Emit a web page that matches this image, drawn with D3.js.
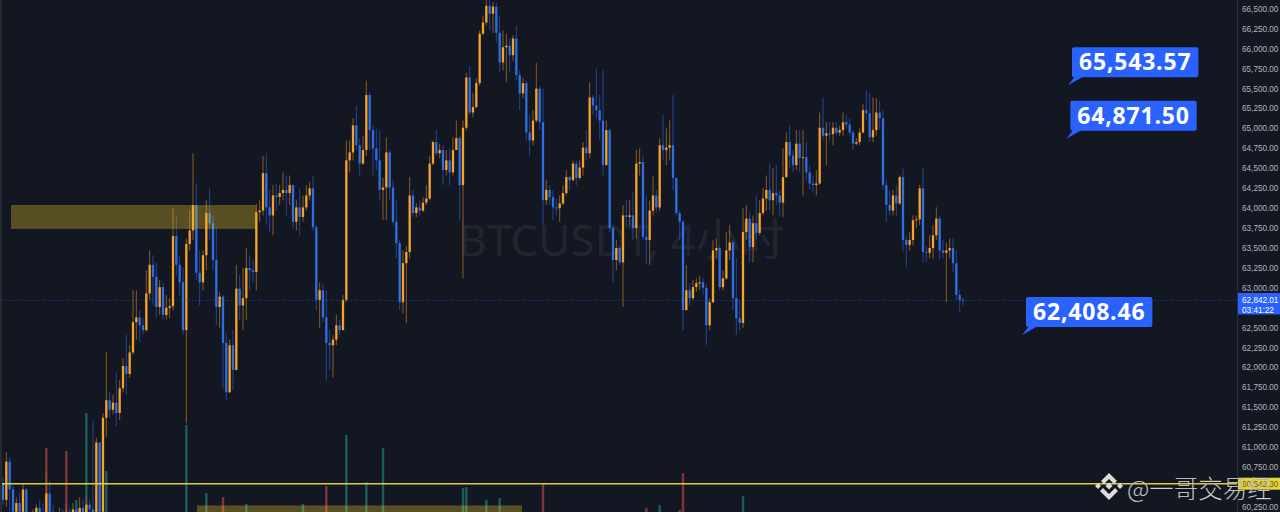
<!DOCTYPE html>
<html><head><meta charset="utf-8">
<script src="https://cdn.jsdelivr.net/npm/d3@7"></script>
<style>html,body{margin:0;padding:0;background:#131722;overflow:hidden}</style>
</head><body><svg id="c" width="1280" height="512"></svg>
<script>
const symbolTitle = "BTCUSDT, 4小时";
const authorMark = "@一哥交易经";
const firstOpen = 60550;
const closes = [60340,60820,60470,60190,60300,60190,60470,60140,60030,60090,
 60240,60120,60070,60420,60190,60120,60070,60150,60090,60190,
 60120,60220,60150,60240,60170,60280,60220,60150,61060,60190,
 61370,61590,61470,61560,61430,61740,62020,61920,62190,62570,
 62630,62530,62470,62930,63290,63140,62760,63010,62660,62750,
 62770,63650,63290,63070,62470,63550,63720,64040,63190,63070,
 63410,63940,63810,63350,62760,62890,62310,61690,62280,61970,
 62990,62780,62870,63250,63220,63200,63950,63970,64440,64010,
 63910,64160,64140,64190,64230,64190,64290,63830,64010,63890,
 64010,64160,64250,63760,62850,62970,62630,62310,62280,62350,
 62530,62470,62850,64600,64700,65040,64790,64560,64730,65420,
 64980,64750,64600,64230,64260,64700,64260,63830,63560,62820,
 63310,63450,64160,63940,64010,63970,64070,64120,64560,64830,
 64690,64730,64480,64600,64450,64730,64880,64290,65010,65640,
 65200,65270,65570,66190,66330,66540,66440,66530,66200,65830,
 66020,66040,65920,66130,65670,65440,65570,64950,64850,65100,
 65500,65080,64100,64230,64140,64010,64000,64060,64190,64390,
 64350,64560,64380,64510,64760,64690,65390,65290,65230,65100,
 64540,64980,63750,63350,63500,63320,63910,63890,63910,63750,
 64560,64580,63640,63600,63970,64160,64010,64790,64730,64760,
 64790,64380,63940,63830,62720,62970,62870,63010,63060,63070,
 63000,62530,62820,63470,63500,63010,63120,63470,63570,62870,
 62620,62560,63700,63870,63510,63810,63690,63940,64120,64230,
 64100,64190,64160,64070,64390,64830,64660,64540,64810,64630,
 64640,64450,64310,64290,64310,65010,64910,64940,64930,65010,
 64950,64980,65080,65050,64950,64810,64830,64950,65230,65190,
 64890,64980,65200,65130,64290,64040,63970,64160,64060,64390,
 63600,63540,63600,63850,63860,64250,63450,63440,63500,63660,
 63870,63470,63440,63470,63500,63310,62910,62850,62842.01];
const highs = [60620,60940,60870,60520,60370,60420,60550,60490,60190,60220,
 60280,60340,60300,60690,60570,60280,60190,60240,60220,60280,
 60240,60300,60280,60370,60340,60400,60340,61330,61120,61060,
 61430,62190,61690,61660,61940,61840,62120,62410,62280,62970,
 62970,62720,62620,63220,63470,63410,63320,63100,63070,62910,
 62870,64000,63910,63400,63250,63620,63970,64690,64310,63470,
 63470,64100,64250,63910,63760,62950,62910,62430,62350,62470,
 63290,63160,63250,63500,63410,63350,64050,64100,64660,64690,
 64230,64290,64310,64290,64450,64410,64410,64250,64100,64250,
 64160,64290,64330,64410,63790,63070,63040,62970,62470,62410,
 62660,62600,62910,64850,64850,65130,65290,64880,64910,65600,
 65450,65040,65000,64980,64380,64890,64730,64350,64100,63600,
 63470,63530,64390,64230,64060,64100,64140,64290,64660,64850,
 64980,64810,64790,64730,64750,64890,65100,64910,65100,65700,
 65790,65450,65630,66230,66420,66610,66610,66580,66580,66420,
 66230,66190,66130,66170,66290,65730,65630,65600,65170,65230,
 65820,65540,65500,64350,64290,64230,64120,64160,64290,64480,
 64410,64600,64600,64600,64830,64980,65580,65420,65750,65420,
 65730,65100,65000,63790,63600,63530,64040,64100,64100,64200,
 64730,64750,64660,64160,64100,64410,64230,64880,65170,65000,
 65100,65420,64380,63970,63850,63290,63060,63100,63120,63150,
 63120,63040,62870,63600,63620,63530,63220,63700,63790,63600,
 63370,62850,64000,64040,63950,63910,64160,64100,64250,64410,
 64560,64500,64540,64230,64750,64950,65040,64730,64980,64980,
 64980,64830,64540,64410,64480,65200,65390,65080,65080,65080,
 65080,65040,65200,65170,65130,64980,64880,65000,65310,65480,
 65450,65390,65380,65350,65230,64350,64230,64230,64290,64410,
 64500,63660,63700,63910,63910,64290,64500,63530,63660,63790,
 64010,63910,63600,63570,63620,63620,63470,62970,62880];
const lows = [60280,60250,60190,60090,60090,60120,60150,60070,59900,59970,
 59990,60030,59970,60030,60090,60030,59940,59990,59970,60030,
 59990,60070,60030,60090,60070,60090,60070,60030,60090,60120,
 60150,61130,61370,61410,61260,61340,61690,61660,61870,62160,
 62350,62320,62410,62450,62850,62780,62620,62660,62600,62600,
 62620,62720,63150,62900,62410,61300,63470,63600,63100,62780,
 62970,63220,63600,63220,62530,62500,61740,61590,61680,61720,
 61970,62600,62470,62600,62970,63070,62970,63830,63910,63790,
 63700,63660,63970,64040,64100,63910,64040,63750,63720,63660,
 63830,63970,64100,63720,62720,62500,62570,61840,61970,61880,
 62280,62410,62500,62820,64450,64600,64730,64410,64540,64660,
 64730,64410,64480,64100,63850,63850,64100,63790,63370,62720,
 62680,62560,63370,63890,63890,63910,63950,64040,64100,64540,
 64660,64630,64290,64410,64290,64410,64730,63850,63120,64980,
 65170,65140,65250,65540,66170,66290,66230,66200,66080,65700,
 65730,65580,65700,65850,65600,65230,65380,64850,64660,64790,
 65080,64980,63790,64040,64040,63850,63910,63830,64040,64160,
 64230,64350,64290,64350,64410,64600,64630,65170,65130,64850,
 64410,64540,63700,63070,63220,63290,62760,63790,63790,63600,
 63620,64410,63600,63290,63290,63910,63950,63970,64600,64540,
 64600,64230,63910,63600,62470,62720,62780,62850,62950,62970,
 62910,62280,62470,62810,63370,62970,62970,63100,63350,62720,
 62410,62470,62500,63600,63320,63320,63600,63660,63910,63970,
 63970,63910,64040,63910,63890,64380,64500,64450,64480,64450,
 64160,64350,64230,64200,64160,64290,64850,64540,64850,64790,
 64910,64910,64910,65000,64910,64730,64790,64790,64940,65100,
 64830,64830,64910,64980,64230,63830,63910,63910,63910,64040,
 63450,63250,63470,63530,63750,63790,63320,63320,63370,63370,
 63600,63350,63370,62820,63370,63200,62850,62700,62780];
const volIndex = [13,19,22,25,31,55,61,66,73,90,97,103,109,114,138,139,145,149,162,193,197,203,204,222];
const volValue = [9330,9080,5000,12250,7420,11250,5580,5250,4670,4670,6170,10420,6500,9330,6000,6080,5000,5170,6330,4330,4580,4170,7250,5330];
const volRising = [false,false,true,true,true,true,true,false,true,true,false,true,true,true,true,true,true,true,false,false,true,false,false,true];
const priceTicks = d3.range(60250, 66501, 250);
const zoneStart = [2.4, 58.2];
const zoneEnd = [76, 155.7];
const zoneHigh = [64040, 60270];
const zoneLow = [63740, 59800];
const levelPrice = 60542.3;
const lastPrice = 62842.01;
const countdown = "03:41:22";
const noteBar = [319.5, 319, 305.7];
const notePrice = [65543.57, 64871.50, 62408.46];

const svg = d3.select("#c");
const W = 1280, H = 512, axisX = 1237;
const x = d3.scaleLinear().domain([0, 288]).range([3, 963]);
const y = d3.scaleLinear().domain([60250, 66500]).range([507, 9]);
const vy = d3.scaleLinear().domain([0, 15000]).range([560, 380]);
const fmt = d3.format(",.2f");

svg.append("rect").attr("width", W).attr("height", H).attr("fill", "#131722");
svg.append("defs").append("clipPath").attr("id", "plot")
  .append("rect").attr("x", 0).attr("y", 0).attr("width", axisX).attr("height", H);
const plot = svg.append("g").attr("clip-path", "url(#plot)");

// watermark
plot.append("text").attr("x", 621).attr("y", 256).attr("text-anchor", "middle")
  .attr("font-family", "'Noto Sans','Noto Sans CJK SC',sans-serif").attr("font-size", 44)
  .attr("fill", "rgba(255,255,255,0.085)").text(symbolTitle);

// volume
plot.append("g").selectAll("rect").data(volIndex).join("rect")
  .attr("x", (d) => x(d) - 1.2).attr("width", 2.4)
  .attr("y", (d, k) => vy(volValue[k])).attr("height", (d, k) => 600 - vy(volValue[k]))
  .attr("fill", (d, k) => volRising[k] ? "rgba(38,166,154,0.5)" : "rgba(239,83,80,0.5)");

// candles
const candles = closes.map((c, i) => ({ i, o: i === 0 ? firstOpen : closes[i - 1], c, h: highs[i], l: lows[i] }));
const cg = plot.append("g");
cg.selectAll("line").data(candles).join("line")
  .attr("x1", (d) => x(d.i)).attr("x2", (d) => x(d.i))
  .attr("y1", (d) => y(Math.max(d.h, d.o, d.c))).attr("y2", (d) => y(Math.min(d.l, d.o, d.c)))
  .attr("stroke", (d) => d.c >= d.o ? "#8a5d20" : "#22449a").attr("stroke-width", 1);
cg.selectAll("rect").data(candles).join("rect")
  .attr("x", (d) => x(d.i) - 1.15).attr("width", 2.3)
  .attr("y", (d) => y(Math.max(d.o, d.c)))
  .attr("height", (d) => Math.max(1, Math.abs(y(d.o) - y(d.c))))
  .attr("fill", (d) => d.c >= d.o ? "#f7a328" : "#2f6fe4");

// zones
plot.append("g").selectAll("rect").data(zoneStart).join("rect")
  .attr("x", (d) => x(d)).attr("width", (d, k) => x(zoneEnd[k]) - x(d))
  .attr("y", (d, k) => y(zoneHigh[k])).attr("height", (d, k) => y(zoneLow[k]) - y(zoneHigh[k]))
  .attr("fill", "rgba(230,190,40,0.33)");

// last price dotted line
plot.append("line").attr("x1", 0).attr("x2", axisX).attr("y1", y(lastPrice)).attr("y2", y(lastPrice))
  .attr("stroke", "#2962ff").attr("stroke-opacity", 0.55).attr("stroke-dasharray", "1,2");

// level line
svg.append("line").attr("x1", 0).attr("x2", W).attr("y1", y(levelPrice)).attr("y2", y(levelPrice))
  .attr("stroke", "#d9cf45").attr("stroke-width", 1.4);

// left border
svg.append("line").attr("x1", 1).attr("x2", 1).attr("y1", 0).attr("y2", H).attr("stroke", "#262a33").attr("stroke-width", 2);

// price axis (ticks hidden where a price label sits on the scale)
svg.append("line").attr("x1", axisX + 0.5).attr("x2", axisX + 0.5).attr("y1", 0).attr("y2", H).attr("stroke", "#2a2e39");
const labelled = [lastPrice, levelPrice];
const shownTicks = priceTicks.filter((t) => labelled.every((p) => Math.abs(y(t) - y(p)) > 11));
const ax = svg.append("g");
ax.selectAll("text").data(shownTicks).join("text")
  .attr("x", 1242).attr("y", (d) => y(d)).attr("dy", "0.35em")
  .attr("font-family", "'Liberation Sans',Arial,sans-serif").attr("font-size", 8.2)
  .attr("fill", "#b2b5be").text((d) => fmt(d));

// last price label
svg.append("rect").attr("x", 1238).attr("y", y(lastPrice) - 7.5).attr("width", 42).attr("height", 21.5).attr("fill", "#2962ff");
svg.append("text").attr("x", 1242).attr("y", y(lastPrice)).attr("dy", "0.35em")
  .attr("font-family", "'Liberation Sans',Arial,sans-serif").attr("font-size", 8.2).attr("fill", "#fff").text(fmt(lastPrice));
svg.append("text").attr("x", 1242).attr("y", y(lastPrice) + 9.5).attr("dy", "0.35em")
  .attr("font-family", "'Liberation Sans',Arial,sans-serif").attr("font-size", 8.2).attr("fill", "#fff").text(countdown);

// level label
svg.append("rect").attr("x", 1238).attr("y", y(levelPrice) - 6).attr("width", 42).attr("height", 12).attr("fill", "#e6d43c");
svg.append("text").attr("x", 1242).attr("y", y(levelPrice)).attr("dy", "0.35em")
  .attr("font-family", "'Liberation Sans',Arial,sans-serif").attr("font-size", 8.2).attr("fill", "#6b5f10").text(fmt(levelPrice));

// balloon notes
noteBar.forEach((b, k) => {
  const tx = x(b), ty = y(notePrice[k]);
  const left = tx + 4, top = ty - 38, h = 30;
  const g = svg.append("g");
  const t = g.append("text").attr("x", left + 7).attr("y", top + 23)
    .attr("font-family", "'Open Sans','Noto Sans',sans-serif").attr("font-weight", 700)
    .attr("font-size", 23).attr("letter-spacing", 0.8).attr("fill", "#ffffff").text(fmt(notePrice[k]));
  const w = t.node().getComputedTextLength() + 14;
  g.insert("path", "text").attr("d", `M${left + 3},${top + h - 1} L${left + 12},${top + h - 1} L${tx},${ty} Z`).attr("fill", "#2962ff");
  g.insert("rect", "text").attr("x", left).attr("y", top).attr("width", w).attr("height", h).attr("rx", 2).attr("fill", "#2962ff");
});

// author mark with logo
const lg = svg.append("g").attr("transform", "translate(1109,486)").attr("fill", "#dcdcdc");
const dm = (cx, cy, r) => `M${cx},${cy - r} L${cx + r},${cy} L${cx},${cy + r} L${cx - r},${cy} Z`;
lg.append("path").attr("d", dm(0, 0, 3.6));
lg.append("path").attr("d", dm(-11, 0, 3));
lg.append("path").attr("d", dm(11, 0, 3));
lg.append("path").attr("d", "M0,-13 L8,-5 L5,-2 L0,-7 L-5,-2 L-8,-5 Z");
lg.append("path").attr("d", "M0,14 L9,5 L6,2 L0,8 L-6,2 L-9,5 Z");
svg.append("text").attr("x", 1127).attr("y", 498)
  .attr("font-family", "'Noto Sans CJK SC',sans-serif").attr("font-weight", 300).attr("font-size", 24.5)
  .attr("fill", "#dedede").attr("stroke", "rgba(0,0,0,0.3)").attr("stroke-width", 0.5).text(authorMark);
</script></body></html>
